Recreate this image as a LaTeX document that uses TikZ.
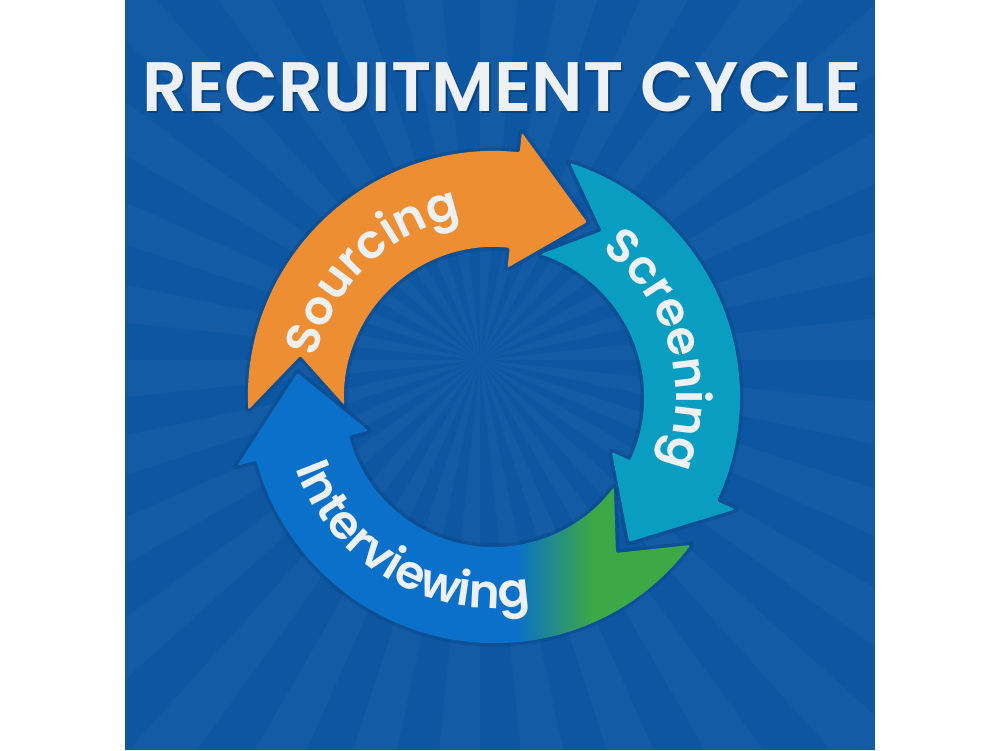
\documentclass[tikz,border=0pt]{standalone}
\usepackage{fontspec}
\usepackage{tikz}
\usetikzlibrary{decorations.text}
\newfontfamily\popfont{Poppins SemiBold}
\definecolor{bgblue}{RGB}{12,86,162}
\definecolor{shadowblue}{RGB}{8,66,128}
\definecolor{srcorange}{RGB}{238,142,51}
\definecolor{scrteal}{RGB}{10,157,194}
\definecolor{intblue}{RGB}{10,112,202}
\definecolor{intgreen}{RGB}{61,168,70}
\definecolor{midteal}{RGB}{18,150,170}
\definecolor{labelwhite}{RGB}{238,241,243}
\newcommand{\labelfont}{\popfont\fontsize{47}{47}\selectfont}
% ring arrow from tail angle #1 to head angle #2
\newcommand{\ringarrow}[2]{(#1:246) arc[start angle=#1, end angle=#2, radius=246]
  -- (#2:266) -- ({#2-22}:198) -- (#2:130) -- (#2:150)
  arc[start angle=#2, end angle=#1, radius=150] -- ({#1-15}:198) -- cycle}
\tikzset{
    ray/.style={fill=white, opacity=.035},
    arrowshadow/.style={fill=shadowblue, draw=shadowblue, line width=7pt, line join=round, opacity=.4},
    arrowbody/.style={fill=#1, rounded corners=2pt},
    steplabel/.style={decorate, decoration={text along path, text={|\labelfont|#1},
        text align=center, text color=labelwhite}}
}
\begin{document}
\begin{tikzpicture}[x=1pt, y=1pt]
    \useasboundingbox (0,0) rectangle (1000,750);
    % background with rays
    \fill[bgblue] (125,0) rectangle (875,750);
    \begin{scope}
        \clip (125,0) rectangle (875,750);
        \foreach \a in {0,12,...,348}
            \fill[ray, shift={(480,390)}] (0,0) -- (\a:900) -- ({\a+6}:900) -- cycle;
    \end{scope}

    % title
    \node[anchor=base, text=shadowblue] at (504,636) {\popfont\fontsize{70}{70}\selectfont RECRUITMENT CYCLE};
    \node[anchor=base, text=labelwhite] (title) at (502,638) {\popfont\fontsize{70}{70}\selectfont RECRUITMENT CYCLE};

    % arrows
    \begin{scope}[shift={(494,353)}]
        \path[arrowshadow] \ringarrow{183}{84};
        \path[arrowshadow] \ringarrow{72}{-25};
        \path[arrowshadow] \ringarrow{-37}{-165};
        \fill[arrowbody=srcorange] \ringarrow{183}{84};
        \fill[arrowbody=scrteal] \ringarrow{72}{-25};
        \fill[arrowbody=intblue] \ringarrow{-37}{-165};
        \begin{scope}
            \clip[rounded corners=2pt] \ringarrow{-37}{-165};
            \shade[left color=intblue, middle color=midteal, right color=intgreen]
                (22,-300) rectangle (98,0);
            \fill[intgreen] (98,-300) rectangle (300,0);
        \end{scope}

        % labels
        \path[steplabel=Sourcing] (184:182) arc[start angle=184, end angle=84, radius=182];
        \path[steplabel=Screening] (66:182) arc[start angle=66, end angle=-34, radius=182];
        \path[steplabel=Interviewing] (190:211) arc[start angle=190, end angle=290, radius=211];
    \end{scope}
\end{tikzpicture}
\end{document}
